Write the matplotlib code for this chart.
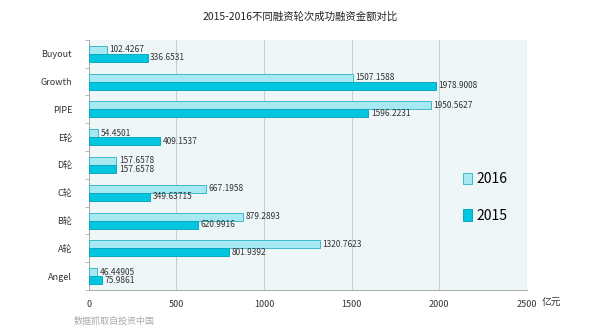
import numpy as np
import matplotlib
matplotlib.use("Agg")
import matplotlib.pyplot as plt
from matplotlib.patches import Patch

plt.rcParams['font.family'] = ['Noto Sans CJK SC', 'DejaVu Sans']

# data (top to bottom)
rounds = ['Buyout', 'Growth', 'PIPE', 'E轮', 'D轮', 'C轮', 'B轮', 'A轮', 'Angel']
v2016 = [102.4267, 1507.1588, 1950.5627, 54.4501, 157.6578, 667.1958, 879.2893, 1320.7623, 46.44905]
v2015 = [336.6531, 1978.9008, 1596.2231, 409.1537, 157.6578, 349.63715, 620.9916, 801.9392, 75.9861]
lab2016 = ['102.4267', '1507.1588', '1950.5627', '54.4501', '157.6578', '667.1958', '879.2893', '1320.7623', '46.44905']
lab2015 = ['336.6531', '1978.9008', '1596.2231', '409.1537', '157.6578', '349.63715', '620.9916', '801.9392', '75.9861']
xticks = [0, 500, 1000, 1500, 2000, 2500]

c2016 = '#a6e9f2'
c2016_edge = '#3fb9cb'
c2015 = '#00c6e0'
c2015_edge = '#0aa9bf'

fig = plt.figure(figsize=(6, 3.35), dpi=100)
ax = fig.add_axes([0.148, 0.134, 0.73, 0.747])
ax.set_facecolor('#eef6f8')

y = np.arange(len(rounds))
h = 0.29
ax.barh(y - h / 2, v2016, height=h, color=c2016, edgecolor=c2016_edge, linewidth=0.7, zorder=3)
ax.barh(y + h / 2, v2015, height=h, color=c2015, edgecolor=c2015_edge, linewidth=0.7, zorder=3)

for i in range(len(rounds)):
    ax.text(v2016[i] + 14, y[i] - h / 2, lab2016[i], va='center', ha='left',
            fontsize=6, color='#333333', zorder=4)
    ax.text(v2015[i] + 14, y[i] + h / 2, lab2015[i], va='center', ha='left',
            fontsize=6, color='#333333', zorder=4)

ax.set_xlim(0, 2500)
ax.set_ylim(len(rounds) - 0.5, -0.5)
ax.set_xticks(xticks)
ax.set_xticklabels([str(t) for t in xticks], fontsize=6.5, color='#333333')
ax.set_yticks(y)
ax.set_yticklabels(rounds, fontsize=6.5, color='#333333')
ax.set_yticks(np.arange(len(rounds) + 1) - 0.5, minor=True)
ax.tick_params(axis='y', which='major', length=0, pad=12)
ax.tick_params(axis='y', which='minor', length=3, color='#aaaaaa', width=0.6)
ax.tick_params(axis='x', length=0, pad=7)
ax.grid(axis='x', color='#c8cdce', linewidth=0.8, zorder=0)

for s in ['top', 'right']:
    ax.spines[s].set_visible(False)
ax.spines['left'].set_color('#aaaaaa')
ax.spines['bottom'].set_color('#aaaaaa')
ax.spines['left'].set_linewidth(0.7)
ax.spines['bottom'].set_linewidth(0.7)

ax.text(1.035, -0.052, '亿元', transform=ax.transAxes, fontsize=7,
        color='#333333', ha='left', va='center')

fig.text(0.5, 0.95, '2015-2016不同融资轮次成功融资金额对比', ha='center', va='center',
         fontsize=7.5, color='#222222')
fig.text(0.122, 0.04, '数据抓取自投资中国', ha='left', va='center',
         fontsize=6.5, color='#aaaaaa')

handles = [Patch(facecolor=c2016, edgecolor=c2016_edge, linewidth=0.7),
           Patch(facecolor=c2015, edgecolor=c2015_edge, linewidth=0.7)]
ax.legend(handles, ['2016', '2015'], loc='center', bbox_to_anchor=(0.905, 0.37),
          frameon=False, fontsize=10, handlelength=0.7, handleheight=0.9,
          handletextpad=0.3, labelspacing=1.6)

fig.savefig('out.png', dpi=100)
